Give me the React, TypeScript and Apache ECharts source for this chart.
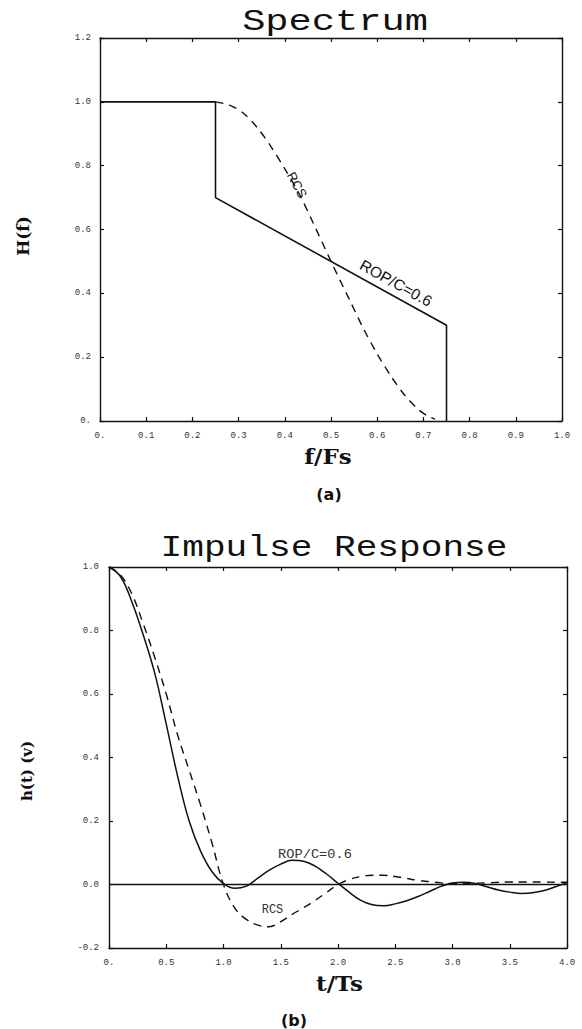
import React, { useEffect, useRef } from "react";
import * as echarts from "echarts";

// ---------- Spectrum (a) ----------
const specRopFreq = [0, 0.25, 0.25, 0.75, 0.75];
const specRopGain = [1.0, 1.0, 0.7, 0.3, 0.0];
const specRcsFreq = [0.25, 0.28, 0.31, 0.34, 0.37, 0.4, 0.43, 0.46, 0.5, 0.54, 0.57, 0.6, 0.63, 0.66, 0.69, 0.71, 0.725];
const specRcsGain = [1.0, 0.99, 0.965, 0.92, 0.86, 0.79, 0.715, 0.625, 0.5, 0.38, 0.29, 0.21, 0.14, 0.08, 0.035, 0.015, 0.006];

// ---------- Impulse response (b) ----------
const impTime = [
  0, 0.1, 0.2, 0.3, 0.4, 0.5, 0.6, 0.7, 0.8, 0.9, 1.0, 1.1, 1.2, 1.3, 1.4, 1.5, 1.6, 1.7, 1.8, 1.9, 2.0,
  2.1, 2.2, 2.3, 2.4, 2.5, 2.6, 2.7, 2.8, 2.9, 3.0, 3.1, 3.2, 3.3, 3.4, 3.5, 3.6, 3.7, 3.8, 3.9, 4.0,
];
const impRop = [
  1.0, 0.97, 0.89, 0.785, 0.665, 0.505, 0.34, 0.2, 0.105, 0.04, 0.003, -0.012, -0.005, 0.02, 0.045, 0.064, 0.076,
  0.073, 0.058, 0.033, 0.004, -0.025, -0.05, -0.064, -0.067, -0.061, -0.051, -0.038, -0.022, -0.006, 0.005,
  0.007, 0.003, -0.007, -0.017, -0.024, -0.028, -0.026, -0.019, -0.007, 0.006,
];
const impRcs = [
  1.0, 0.975, 0.915, 0.82, 0.715, 0.6, 0.47, 0.36, 0.25, 0.13, 0.0, -0.075, -0.11, -0.128, -0.133, -0.117, -0.094,
  -0.073, -0.05, -0.025, 0.0, 0.016, 0.025, 0.029, 0.029, 0.025, 0.019, 0.013, 0.009, 0.005, 0.003,
  0.003, 0.004, 0.005, 0.007, 0.008, 0.008, 0.008, 0.008, 0.007, 0.007,
];
const zeroLineT = [0, 4];
const zeroLineV = [0, 0];

// ---------- Texts ----------
const titleA = "Spectrum";
const titleB = "Impulse Response";
const xNameA = "f/Fs";
const yNameA = "H(f)";
const xNameB = "t/Ts";
const yNameB = "h(t) (v)";
const capA = "(a)";
const capB = "(b)";
const labelRop = "ROP/C=0.6";
const labelRcs = "RCS";

const zip = (xs: number[], ys: number[]) => xs.map((x, i) => [x, ys[i]]);

const INK = "#111";
const axisLine = { show: true, onZero: false, lineStyle: { color: INK, width: 1.4 } };
const tick = { show: true, inside: true, length: 4, lineStyle: { color: INK, width: 1.2 } };
const tickFont = { fontFamily: "Liberation Mono", fontSize: 9, color: "#333" };

const fmtX = (v: number) => (Math.abs(v) < 1e-9 ? "0." : v.toFixed(1));
const fmtYA = (v: number) => (Math.abs(v) < 1e-9 ? "0." : v.toFixed(1));
const fmtYB = (v: number) => (Math.abs(v) < 1e-9 ? "0.0" : v.toFixed(1));

function txt(
  text: string,
  x: number,
  y: number,
  fontFamily: string,
  fontSize: number,
  opts: { rot?: number; sx?: number; weight?: string; fill?: string } = {}
) {
  return {
    type: "text",
    x,
    y,
    rotation: ((opts.rot || 0) * Math.PI) / 180,
    scaleX: opts.sx || 1,
    style: {
      text,
      fontFamily,
      fontSize,
      fontWeight: opts.weight || "normal",
      fill: opts.fill || INK,
      align: "center",
      verticalAlign: "middle",
    },
    z: 100,
  };
}

export default function App() {
  const ref = useRef<HTMLDivElement>(null);

  useEffect(() => {
    document.body.style.margin = "0";
    if (!ref.current) return;
    const chart = echarts.init(ref.current, undefined, { renderer: "svg" });

    const mirrorX = (gi: number, min: number, max: number, interval: number) => ({
      type: "value",
      gridIndex: gi,
      position: "top",
      min,
      max,
      interval,
      axisLine,
      axisTick: tick,
      axisLabel: { show: false },
      splitLine: { show: false },
    });
    const mirrorY = (gi: number, min: number, max: number, interval: number) => ({
      type: "value",
      gridIndex: gi,
      position: "right",
      min,
      max,
      interval,
      axisLine,
      axisTick: tick,
      axisLabel: { show: false },
      splitLine: { show: false },
    });

    chart.setOption({
      animation: false,
      backgroundColor: "#ffffff",
      grid: [
        { left: 100, top: 38, width: 462, height: 383 },
        { left: 109, top: 567, width: 458, height: 381 },
      ],
      xAxis: [
        {
          type: "value",
          gridIndex: 0,
          position: "bottom",
          min: 0,
          max: 1,
          interval: 0.1,
          axisLine,
          axisTick: tick,
          splitLine: { show: false },
          axisLabel: { ...tickFont, margin: 10, formatter: fmtX },
        },
        mirrorX(0, 0, 1, 0.1),
        {
          type: "value",
          gridIndex: 1,
          position: "bottom",
          min: 0,
          max: 4,
          interval: 0.5,
          axisLine,
          axisTick: tick,
          splitLine: { show: false },
          axisLabel: { ...tickFont, margin: 10, formatter: fmtX },
        },
        mirrorX(1, 0, 4, 0.5),
      ],
      yAxis: [
        {
          type: "value",
          gridIndex: 0,
          position: "left",
          min: 0,
          max: 1.2,
          interval: 0.2,
          axisLine,
          axisTick: tick,
          splitLine: { show: false },
          axisLabel: { ...tickFont, margin: 9, formatter: fmtYA },
        },
        mirrorY(0, 0, 1.2, 0.2),
        {
          type: "value",
          gridIndex: 1,
          position: "left",
          min: -0.2,
          max: 1.0,
          interval: 0.2,
          axisLine,
          axisTick: tick,
          splitLine: { show: false },
          axisLabel: { ...tickFont, margin: 10, formatter: fmtYB },
        },
        mirrorY(1, -0.2, 1.0, 0.2),
      ],
      series: [
        {
          name: "ROP/C=0.6 spectrum",
          type: "line",
          xAxisIndex: 0,
          yAxisIndex: 0,
          data: zip(specRopFreq, specRopGain),
          showSymbol: false,
          symbol: "none",
          lineStyle: { color: INK, width: 1.6 },
        },
        {
          name: "RCS spectrum",
          type: "line",
          xAxisIndex: 0,
          yAxisIndex: 0,
          data: zip(specRcsFreq, specRcsGain),
          smooth: 0.3,
          showSymbol: false,
          symbol: "none",
          lineStyle: { color: INK, width: 1.4, type: [8, 6] },
        },
        {
          name: "zero",
          type: "line",
          xAxisIndex: 2,
          yAxisIndex: 2,
          data: zip(zeroLineT, zeroLineV),
          showSymbol: false,
          symbol: "none",
          lineStyle: { color: INK, width: 1.4 },
        },
        {
          name: "ROP/C=0.6 impulse",
          type: "line",
          xAxisIndex: 2,
          yAxisIndex: 2,
          data: zip(impTime, impRop),
          smooth: 0.4,
          showSymbol: false,
          symbol: "none",
          lineStyle: { color: INK, width: 1.5 },
        },
        {
          name: "RCS impulse",
          type: "line",
          xAxisIndex: 2,
          yAxisIndex: 2,
          data: zip(impTime, impRcs),
          smooth: 0.4,
          showSymbol: false,
          symbol: "none",
          lineStyle: { color: INK, width: 1.4, type: [8, 6] },
        },
      ],
      graphic: [
        txt(titleA, 335, 22, "Liberation Mono", 30, { sx: 1.29 }),
        txt(titleB, 334, 548, "Liberation Mono", 30, { sx: 1.205 }),
        txt(yNameA, 22.5, 236, "DejaVu Serif", 17, { rot: 90, weight: "bold" }),
        txt(xNameA, 328, 457, "DejaVu Serif", 20, { weight: "bold", sx: 1.15 }),
        txt(capA, 329, 494, "DejaVu Sans", 16, { weight: "bold" }),
        txt(yNameB, 27, 771, "DejaVu Serif", 15, { rot: 90, weight: "bold" }),
        txt(xNameB, 339.5, 984, "DejaVu Serif", 20, { weight: "bold", sx: 1.15 }),
        txt(capB, 294, 1020, "DejaVu Sans", 16, { weight: "bold" }),
        txt(labelRcs, 297, 185, "Liberation Sans", 13, { rot: -62 }),
        txt(labelRop, 396, 283, "Liberation Sans", 15.5, { rot: -29 }),
        txt(labelRop, 315, 854.5, "Liberation Mono", 12, { sx: 1.14, fill: "#333" }),
        txt(labelRcs, 272.5, 910, "Liberation Mono", 12, { fill: "#333" }),
      ],
    });

    return () => chart.dispose();
  }, []);

  return <div ref={ref} style={{ width: 582, height: 1029 }} />;
}
